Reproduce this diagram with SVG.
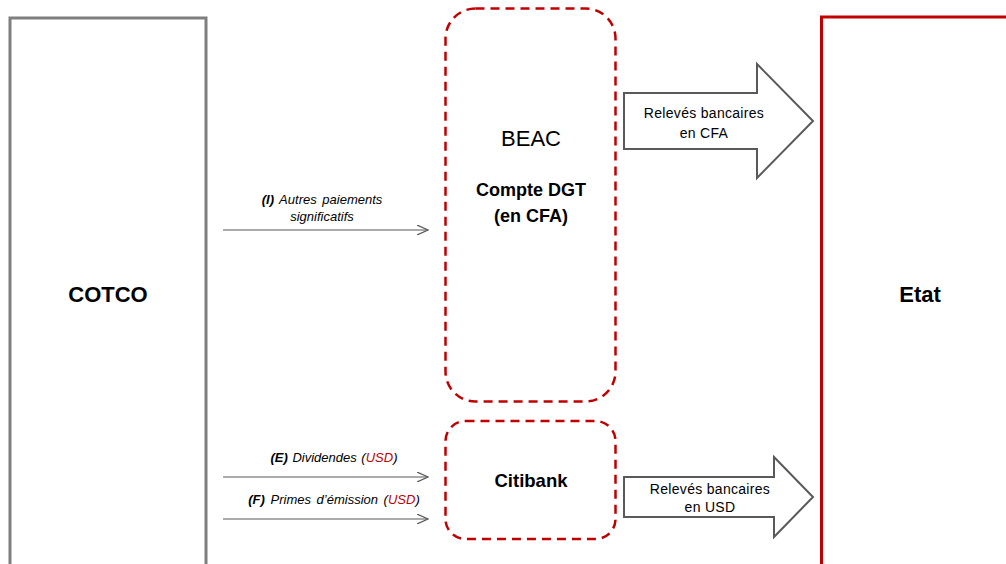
<svg xmlns="http://www.w3.org/2000/svg" width="1006" height="564" viewBox="0 0 1006 564">
<defs>
<style>
.t{font-family:"Liberation Sans",Arial,sans-serif;fill:#000}
.it{font-style:italic;font-size:13px}
.b{font-weight:bold}
.red{fill:#C00000}
.dash{fill:none;stroke:#C00000;stroke-width:2.5;stroke-dasharray:9 6}
.ln{fill:none;stroke:#595959;stroke-width:1.2}
.blk{fill:#fff;stroke:#595959;stroke-width:2}
.rv{font-size:14px;letter-spacing:0.3px}
</style>
<marker id="open" viewBox="0 0 12 10" refX="11" refY="5" markerWidth="12" markerHeight="10" markerUnits="userSpaceOnUse" orient="auto">
<path d="M0,0 L11,5 L0,10" fill="none" stroke="#595959" stroke-width="1.2"/>
</marker>
</defs>
<rect width="1006" height="564" fill="#fff"/>
<g id="cotco">
<rect x="10" y="18" width="196" height="560" fill="#fff" stroke="#7f7f7f" stroke-width="3"/>
<text class="t b" x="108" y="302" font-size="22" text-anchor="middle">COTCO</text>
</g>
<g id="etat">
<rect x="821.5" y="17" width="200" height="560" fill="#fff" stroke="#C00000" stroke-width="3"/>
<text class="t b" x="920" y="302" font-size="22" text-anchor="middle">Etat</text>
</g>
<g id="beac">
<rect class="dash" x="445.5" y="8.5" width="170" height="393" rx="30"/>
<text class="t" x="531" y="146" font-size="22" text-anchor="middle">BEAC</text>
<text class="t b" x="531" y="196" font-size="18" text-anchor="middle">Compte DGT</text>
<text class="t b" x="531" y="222" font-size="18" text-anchor="middle">(en CFA)</text>
</g>
<g id="citibank">
<rect class="dash" x="445.5" y="421" width="170" height="118" rx="20"/>
<text class="t b" x="531" y="487" font-size="18.5" text-anchor="middle">Citibank</text>
</g>
<g id="releve-cfa">
<polygon class="blk" points="624,93 757,93 757,64 813,121 757,178 757,149 624,149"/>
<text class="t rv" x="704" y="118" text-anchor="middle">Relevés bancaires</text>
<text class="t rv" x="704" y="138" text-anchor="middle">en CFA</text>
</g>
<g id="releve-usd">
<polygon class="blk" points="624,477 774,477 774,457 813,497 774,537 774,517 624,517"/>
<text class="t rv" x="710" y="494" text-anchor="middle">Relevés bancaires</text>
<text class="t rv" x="710" y="512" text-anchor="middle">en USD</text>
</g>
<g id="connectors">
<line class="ln" x1="223" y1="230" x2="428" y2="230" marker-end="url(#open)"/>
<line class="ln" x1="223" y1="477" x2="428" y2="477" marker-end="url(#open)"/>
<line class="ln" x1="223" y1="519" x2="428" y2="519" marker-end="url(#open)"/>
</g>
<g id="labels">
<text class="t it" x="322" y="204" text-anchor="middle" word-spacing="2"><tspan class="b">(I)</tspan> Autres paiements</text>
<text class="t it" x="322" y="221" text-anchor="middle">significatifs</text>
<text class="t it" x="334" y="462" text-anchor="middle" word-spacing="1"><tspan class="b">(E)</tspan> Dividendes (<tspan class="red">USD</tspan>)</text>
<text class="t it" x="334" y="504" text-anchor="middle" word-spacing="2"><tspan class="b">(F)</tspan> Primes d’émission (<tspan class="red">USD</tspan>)</text>
</g>
</svg>
